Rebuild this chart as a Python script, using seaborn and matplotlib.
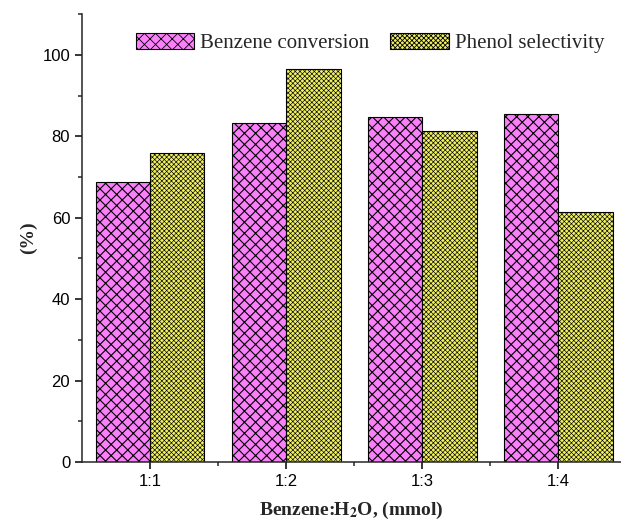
import matplotlib
matplotlib.use("Agg")
import matplotlib.pyplot as plt
import seaborn as sns
import pandas as pd
from matplotlib.patches import Patch
from matplotlib.ticker import MultipleLocator

ratios = ["1:1", "1:2", "1:3", "1:4"]
benzene_conversion = [68.8, 83.3, 84.8, 85.5]
phenol_selectivity = [76.0, 96.6, 81.2, 61.3]
series_names = ["Benzene conversion", "Phenol selectivity"]
colors = ["#FA80FA", "#F0F064"]
hatches = ["xxx", "xxxxxxx"]
hatch_lw = [0.8, 0.45]

df = pd.DataFrame({
    "ratio": ratios * 2,
    "value": benzene_conversion + phenol_selectivity,
    "series": [series_names[0]] * 4 + [series_names[1]] * 4,
})

sns.set_style("ticks")
plt.rcParams["hatch.linewidth"] = 0.6
plt.rcParams["mathtext.fontset"] = "stix"

fig = plt.figure(figsize=(6.21, 5.25), dpi=100)
ax = fig.add_axes([0.132, 0.12, 0.868, 0.853])

sns.barplot(data=df, x="ratio", y="value", hue="series", hue_order=series_names,
            palette=colors, saturation=1, width=0.8, edgecolor="black",
            linewidth=0.8, ax=ax, legend=False)

def style_patch(p, h, lw):
    p.set_hatch(h)
    if hasattr(p, "set_hatch_linewidth"):
        p.set_hatch_linewidth(lw)

for cont, h, lw in zip(ax.containers, hatches, hatch_lw):
    for p in cont:
        style_patch(p, h, lw)

ax.set_xlim(-0.5, 3.46)
ax.set_ylim(0, 110)
ax.yaxis.set_major_locator(MultipleLocator(20))
ax.yaxis.set_minor_locator(MultipleLocator(10))
ax.set_xticks([0.5, 1.5, 2.5], minor=True)
for s in ["top", "right"]:
    ax.spines[s].set_visible(False)
ax.spines["left"].set_linewidth(1.1)
ax.spines["bottom"].set_linewidth(1.1)
ax.tick_params(which="major", length=5, width=1.1, direction="out",
               labelsize=12, colors="black")
ax.tick_params(which="minor", length=3, width=1.1, direction="out")
for lab in ax.get_xticklabels() + ax.get_yticklabels():
    lab.set_fontfamily("Liberation Sans")

ax.set_xlabel("Benzene:H$_\\mathbf{2}$O, (mmol)", fontfamily="Liberation Serif",
              fontweight="bold", fontsize=14, labelpad=8)
ax.set_ylabel("(%)", fontfamily="Liberation Serif", fontweight="bold",
              fontsize=14, labelpad=4)

handles = []
for c, h, lw in zip(colors, hatches, hatch_lw):
    hp = Patch(facecolor=c, edgecolor="black", linewidth=0.8)
    style_patch(hp, h, lw)
    handles.append(hp)
ax.legend(handles, series_names, loc="upper left", bbox_to_anchor=(0.065, 1.0),
          ncol=2, frameon=False, handlelength=2.8, handleheight=0.8,
          handletextpad=0.3, columnspacing=1.0,
          prop={"family": "Liberation Serif", "size": 15})

fig.savefig("out.png", dpi=100)
